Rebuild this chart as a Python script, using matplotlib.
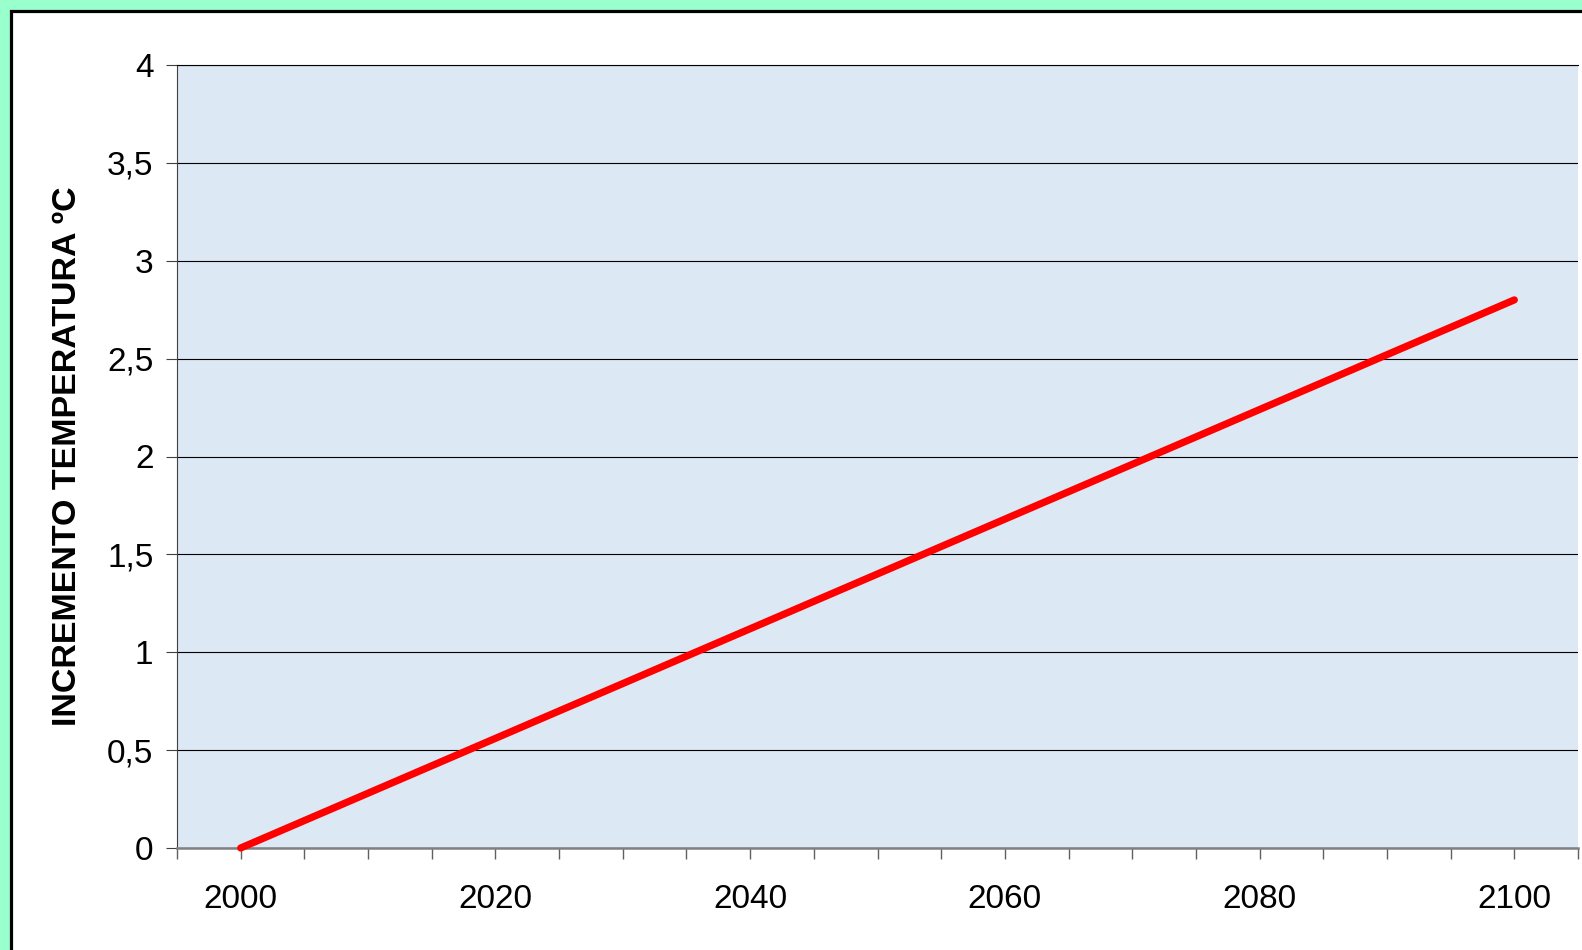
import matplotlib
matplotlib.use("Agg")
import matplotlib.pyplot as plt
from matplotlib.patches import Rectangle

# temperature rise projection
years = [2000, 2100]
increase = [0.0, 2.8]

y_ticks = [0, 0.5, 1, 1.5, 2, 2.5, 3, 3.5, 4]
y_labels = ["0", "0,5", "1", "1,5", "2", "2,5", "3", "3,5", "4"]
x_major = [2000, 2020, 2040, 2060, 2080, 2100]
x_minor = list(range(1995, 2106, 5))

W, H = 1582, 950
plt.rcParams['font.family'] = ['Liberation Sans', 'DejaVu Sans']

fig = plt.figure(figsize=(W / 100, H / 100), dpi=100)
fig.patch.set_facecolor('#99ffcc')

# white slide panel with a black frame, cut off at right and bottom
fig.patches.append(Rectangle((10.5 / W, -0.1), 1.2, 1 - 10.5 / H + 0.1,
                             transform=fig.transFigure, facecolor='white',
                             edgecolor='black', linewidth=2.3, zorder=-10))

ax = fig.add_axes([177 / W, 1 - 848 / H, (1578 - 177) / W, (848 - 65) / H])
ax.set_facecolor('#dde8f5')

ax.plot(years, increase, color='#ff0000', linewidth=5.2,
        solid_capstyle='round', zorder=5, clip_on=False)

ax.set_xlim(1995, 2105)
ax.set_ylim(0, 4)

ax.set_yticks(y_ticks)
ax.set_yticklabels(y_labels)
ax.set_xticks(x_minor)
ax.set_xticklabels([str(y) if y in x_major else '' for y in x_minor])

ax.grid(axis='y', color='black', linewidth=0.8)
ax.set_axisbelow(True)

ax.spines['right'].set_visible(False)
ax.spines['top'].set_color('black')
ax.spines['top'].set_linewidth(0.8)
ax.spines['left'].set_color('#404040')
ax.spines['left'].set_linewidth(0.8)
ax.spines['bottom'].set_color('#808080')
ax.spines['bottom'].set_linewidth(1.8)

ax.tick_params(axis='y', direction='out', length=8, width=0.8,
               color='#404040', labelsize=24, pad=9)
ax.tick_params(axis='x', direction='out', length=8, width=1.0,
               color='#606060', labelsize=24, pad=18)

ax.set_ylabel('INCREMENTO TEMPERATURA ºC', fontsize=24.5, fontweight='bold')
ax.yaxis.set_label_coords(-94 / (1578 - 177), 0.5)

fig.savefig('out.png', dpi=100, facecolor=fig.get_facecolor())
